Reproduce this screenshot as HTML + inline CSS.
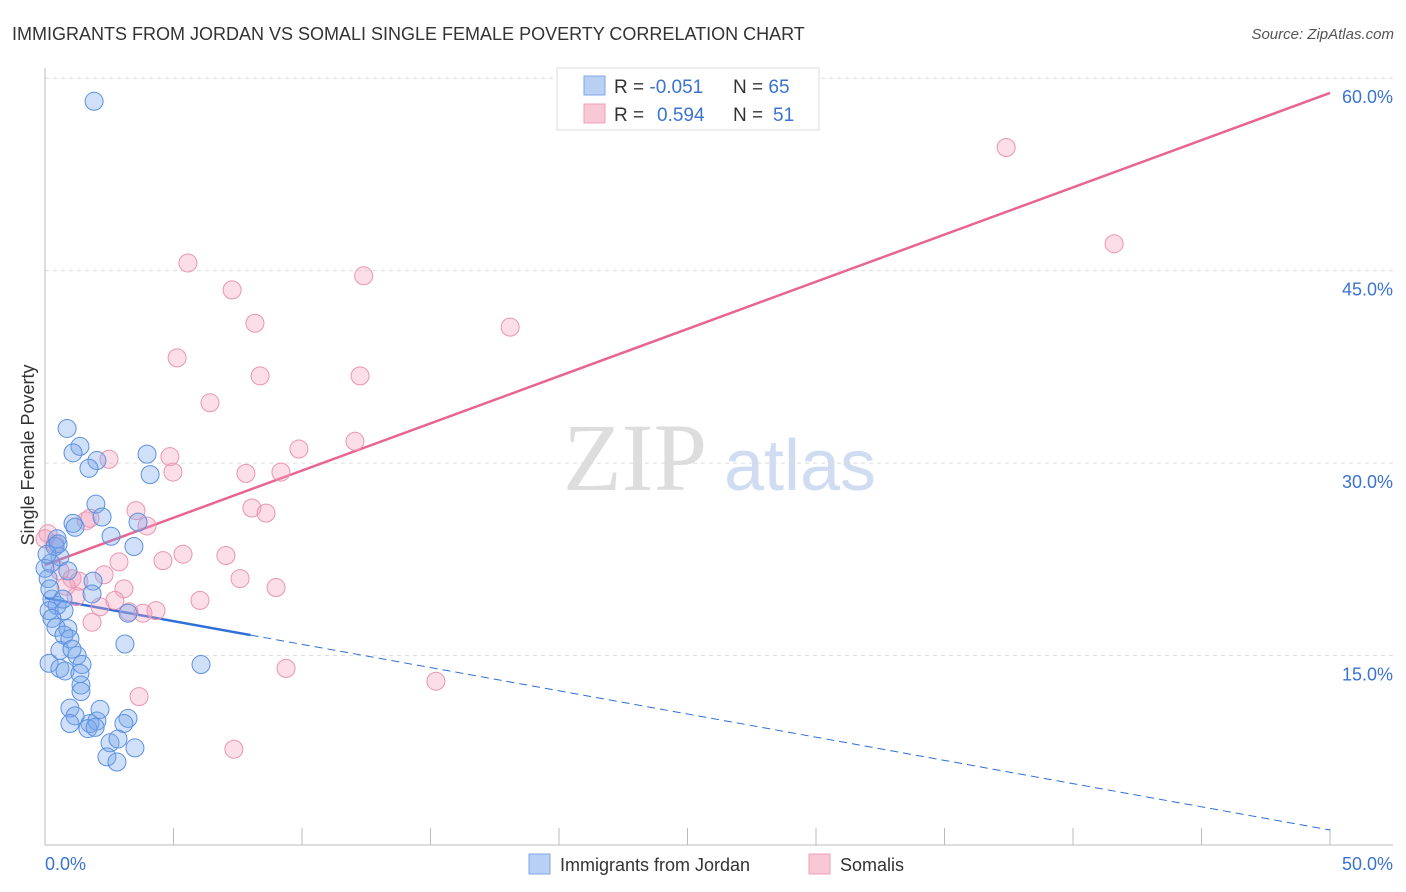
<!DOCTYPE html>
<html><head><meta charset="utf-8"><style>
body{margin:0;background:#fff;font-family:"Liberation Sans",sans-serif;}
svg{display:block}
</style></head><body>
<svg id="c" width="1406" height="892" xmlns="http://www.w3.org/2000/svg">
<text x="12" y="40" font-size="18" fill="#333">IMMIGRANTS FROM JORDAN VS SOMALI SINGLE FEMALE POVERTY CORRELATION CHART</text>
<text x="1394" y="39" font-size="15" fill="#555" font-style="italic" text-anchor="end">Source: ZipAtlas.com</text>
<g>
<text x="635" y="490" font-size="96" font-family="Liberation Serif,serif" fill="#ddd" text-anchor="middle">ZIP</text>
<text x="800" y="490" font-size="72" fill="#cfdcf2" text-anchor="middle">atlas</text>
</g>
<text transform="translate(34,455) rotate(-90)" font-size="18" fill="#333" text-anchor="middle">Single Female Poverty</text>
<g id="grid"></g><g id="axes"></g><g id="lines"></g><g id="pts"></g>
<g>
<rect x="557" y="68" width="262" height="62" fill="#fff" stroke="#ddd"/>
<rect x="584" y="76" width="21" height="19" fill="#b9d0f5" stroke="#7ea6e6"/>
<rect x="584" y="104" width="21" height="19" fill="#f9c8d6" stroke="#eea0b8"/>
<text x="614" y="93" font-size="19" fill="#333">R = <tspan fill="#3b73d1">-0.051</tspan><tspan x="733">N = </tspan><tspan fill="#3b73d1">65</tspan></text>
<text x="614" y="121" font-size="19" fill="#333">R = <tspan x="657" fill="#3b73d1">0.594</tspan><tspan x="733">N = </tspan><tspan x="773" fill="#3b73d1">51</tspan></text>
</g>
<g>
<rect x="529" y="854" width="21" height="20" fill="#b9d0f5" stroke="#7ea6e6"/>
<text x="560" y="871" font-size="18" fill="#333">Immigrants from Jordan</text>
<rect x="809" y="854" width="21" height="20" fill="#f9c8d6" stroke="#eea0b8"/>
<text x="840" y="871" font-size="18" fill="#333">Somalis</text>
</g>
</svg>
<script>
const yTicks=[15,30,45,60];
const yTickLabels=["15.0%","30.0%","45.0%","60.0%"];
const xTickLabels=["0.0%","50.0%"];
const jordanX=[1.91,0.86,1.36,1.09,2.02,1.71,3.97,4.09,1.98,2.22,1.09,1.17,3.62,2.57,3.46,0.47,0.39,0.58,0.23,0.89,1.87,1.83,0.27,0.47,0.16,0.74,0.27,0.43,0.89,0.74,0.97,3.23,3.11,0.58,1.25,1.44,0.16,0.58,0.78,1.36,1.40,1.40,0.97,1.17,0.97,1.75,2.02,3.23,3.07,1.67,1.95,2.53,2.84,3.50,2.41,2.80,6.07,0.12,0.0,0.19,0.51,0.08,0.70,1.05,2.14];
const jordanY=[58.2,32.7,31.3,30.8,30.2,29.6,30.7,29.1,26.8,25.8,25.3,25.0,25.4,24.3,23.5,24.1,23.5,22.7,22.2,21.6,20.8,19.8,19.4,18.9,18.5,18.5,17.9,17.2,17.1,16.6,16.3,18.3,15.9,15.4,15.0,14.3,14.4,14.0,13.8,13.6,12.7,12.2,10.9,10.3,9.7,9.7,9.9,10.1,9.7,9.3,9.4,8.2,8.5,7.8,7.1,6.7,14.3,21.0,21.8,20.2,23.7,22.9,19.4,15.5,10.8];
const somaliX=[37.4,41.6,5.56,12.4,7.28,8.17,18.1,5.14,8.37,12.26,6.42,12.06,9.88,2.49,4.86,4.98,7.82,9.18,1.60,3.54,8.05,8.60,3.97,0.39,0.12,5.37,4.59,7.04,2.88,2.30,1.05,1.32,0.82,7.59,8.99,3.07,1.21,2.72,2.14,6.03,4.32,3.81,3.27,1.83,9.38,15.21,3.66,7.35,0.0,0.58,1.75];
const somaliY=[54.6,47.1,45.6,44.6,43.5,40.9,40.6,38.2,36.8,36.8,34.7,31.7,31.1,30.3,30.5,29.3,29.2,29.3,25.5,26.3,26.5,26.1,25.1,23.7,24.5,22.9,22.4,22.8,22.3,21.3,21.0,20.8,20.4,21.0,20.3,20.2,19.6,19.3,18.8,19.3,18.5,18.3,18.4,17.6,14.0,13.0,11.8,7.7,24.1,21.6,25.7];
const somaliTrend=[22.06,58.85];
const jordanTrend=[19.49,1.40];
const jordanSolidEnd=8.0;

const NS="http://www.w3.org/2000/svg";
const X=v=>45+v*25.7;
const Y=v=>848-v*12.83;
function mk(tag,attrs,parent){const e=document.createElementNS(NS,tag);for(const k in attrs)e.setAttribute(k,attrs[k]);parent.appendChild(e);return e;}
const grid=document.getElementById('grid'),axes=document.getElementById('axes'),lines=document.getElementById('lines'),pts=document.getElementById('pts');
yTicks.forEach((t,i)=>{
  const g=mk('line',{x1:45,x2:1393,y1:Y(t),y2:Y(t),stroke:'#ddd','stroke-dasharray':'4,4'},grid);
  
  
  const l=mk('text',{x:1393,y:Y(t)+25,'font-size':18,fill:'#3b73d1','text-anchor':'end'},axes);
  l.textContent=yTickLabels[i];
  
  
});
const ax=mk('line',{x1:45,x2:1393,y1:845,y2:845,stroke:'#bbb'},axes);


const ay=mk('line',{x1:45,x2:45,y1:68,y2:845,stroke:'#bbb'},axes);


for(let i=0;i<=10;i++){
  const tk=mk('line',{x1:X(i*5),x2:X(i*5),y1:828,y2:845,stroke:'#bbb'},axes);
  
  
}
[[0,'start',45],[50,'end',1393]].forEach((d,i)=>{
  const t=mk('text',{x:d[2],y:870,'font-size':18,fill:'#3b73d1','text-anchor':d[1]},axes);
  t.textContent=xTickLabels[i];
  
  
});
const pl=mk('line',{x1:X(0),y1:Y(somaliTrend[0]),x2:X(50),y2:Y(somaliTrend[1]),stroke:'#e8658f','stroke-width':2.5},lines);


const jy=x=>jordanTrend[0]+(jordanTrend[1]-jordanTrend[0])*x/50;
const bl=mk('line',{x1:X(0),y1:Y(jy(0)),x2:X(jordanSolidEnd),y2:Y(jy(jordanSolidEnd)),stroke:'#2f6fd6','stroke-width':2.5},lines);


const bd=mk('line',{x1:X(jordanSolidEnd),y1:Y(jy(jordanSolidEnd)),x2:X(50),y2:Y(jy(50)),stroke:'#2f6fd6','stroke-width':1,'stroke-dasharray':'8,5'},lines);


somaliX.forEach((x,i)=>{
  const c=mk('circle',{cx:X(x),cy:Y(somaliY[i]),r:9,fill:'rgba(244,160,190,0.35)',stroke:'#ea95b2','stroke-width':1},pts);
  
  
});
jordanX.forEach((x,i)=>{
  const c=mk('circle',{cx:X(x),cy:Y(jordanY[i]),r:9,fill:'rgba(120,165,235,0.35)',stroke:'#5c90e0','stroke-width':1},pts);
  
  
});
</script>
</body></html>
